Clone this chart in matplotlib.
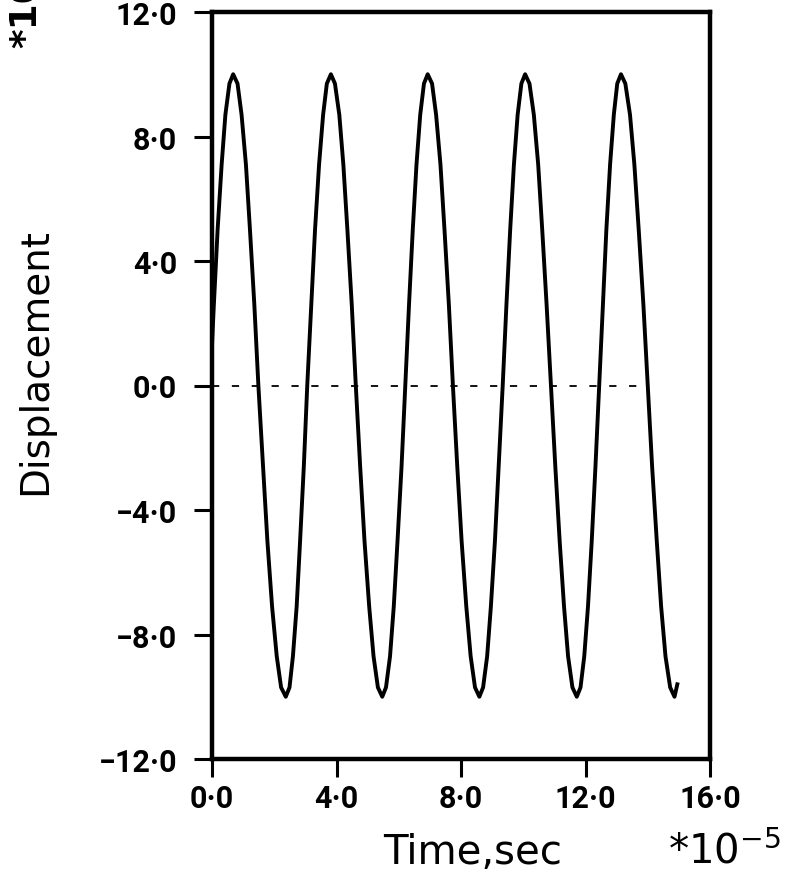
import matplotlib
matplotlib.use("Agg")
import matplotlib.pyplot as plt

# valeurs (temps en 1e-5 s)
temps = [0.00, 0.06, 0.18, 0.31, 0.43, 0.56, 0.68,
         0.82, 0.95, 1.09, 1.22, 1.36, 1.49,
         1.64, 1.78, 1.93, 2.08, 2.22, 2.37,
         2.49, 2.60, 2.72, 2.83, 2.95, 3.06,
         3.19, 3.31, 3.44, 3.57, 3.69, 3.82,
         3.95, 4.09, 4.22, 4.35, 4.49, 4.62,
         4.76, 4.90, 5.05, 5.19, 5.33, 5.47,
         5.59, 5.72, 5.84, 5.96, 6.09, 6.21,
         6.33, 6.45, 6.57, 6.69, 6.81, 6.93,
         7.07, 7.20, 7.34, 7.47, 7.61, 7.74,
         7.88, 8.02, 8.17, 8.31, 8.45, 8.59,
         8.71, 8.84, 8.96, 9.09, 9.21, 9.34,
         9.46, 9.58, 9.70, 9.82, 9.94, 10.06,
         10.20, 10.34, 10.48, 10.61, 10.75, 10.89,
         11.03, 11.17, 11.31, 11.44, 11.58, 11.72,
         11.84, 11.96, 12.08, 12.20, 12.32, 12.44,
         12.56, 12.67, 12.79, 12.91, 13.02, 13.14,
         13.28, 13.43, 13.57, 13.71, 13.86, 14.00,
         14.14, 14.29, 14.43, 14.57, 14.72, 14.86,
         14.95]
deplacement = [1.3, 2.6, 5.0, 7.1, 8.7, 9.7, 10.0,
               9.7, 8.7, 7.1, 5.0, 2.6, 0.0,
               -2.6, -5.0, -7.1, -8.7, -9.7, -10.0,
               -9.7, -8.7, -7.1, -5.0, -2.6, 0.0,
               2.6, 5.0, 7.1, 8.7, 9.7, 10.0,
               9.7, 8.7, 7.1, 5.0, 2.6, 0.0,
               -2.6, -5.0, -7.1, -8.7, -9.7, -10.0,
               -9.7, -8.7, -7.1, -5.0, -2.6, 0.0,
               2.6, 5.0, 7.1, 8.7, 9.7, 10.0,
               9.7, 8.7, 7.1, 5.0, 2.6, 0.0,
               -2.6, -5.0, -7.1, -8.7, -9.7, -10.0,
               -9.7, -8.7, -7.1, -5.0, -2.6, 0.0,
               2.6, 5.0, 7.1, 8.7, 9.7, 10.0,
               9.7, 8.7, 7.1, 5.0, 2.6, 0.0,
               -2.6, -5.0, -7.1, -8.7, -9.7, -10.0,
               -9.7, -8.7, -7.1, -5.0, -2.6, 0.0,
               2.6, 5.0, 7.1, 8.7, 9.7, 10.0,
               9.7, 8.7, 7.1, 5.0, 2.6, 0.0,
               -2.6, -5.0, -7.1, -8.7, -9.7, -10.0,
               -9.6]

# ligne de zero en pointilles
zero_t = [0.0, 14.0]
zero_y = [0.0, 0.0]

xticks = [0, 4, 8, 12, 16]
xlabels = ["0·0", "4·0", "8·0", "12·0", "16·0"]
yticks = [-12, -8, -4, 0, 4, 8, 12]
ylabels = ["\u221212·0", "\u22128·0", "\u22124·0", "0·0", "4·0", "8·0", "12·0"]

fig = plt.figure(figsize=(7.85, 8.79), dpi=100)
ax = fig.add_axes([212/785, 1 - 760/879, (710 - 212)/785, (760 - 13)/879])

ax.plot(temps, deplacement, color="black", lw=2.8, solid_joinstyle="round")
ax.plot(zero_t, zero_y, color="black", lw=1.3, linestyle=(0, (4, 7)))

ax.set_xlim(0, 16)
ax.set_ylim(-12, 12)
ax.set_xticks(xticks)
ax.set_xticklabels(xlabels)
ax.set_yticks(yticks)
ax.set_yticklabels(ylabels)

for s in ax.spines.values():
    s.set_linewidth(3.2)
ax.tick_params(direction="out", length=13, width=2.2, labelsize=22)
ax.tick_params(axis="y", pad=12)
ax.tick_params(axis="x", pad=4)
for lab in ax.get_xticklabels() + ax.get_yticklabels():
    lab.set_family(["Roboto", "DejaVu Sans"])
    lab.set_fontweight("bold")

ax.set_ylabel("Displacement", fontsize=28)
ax.yaxis.set_label_coords((35 - 212) / 498, (760 - 362) / 747)
ax.yaxis.label.set_va("center")
ax.set_xlabel("Time,sec", fontsize=29)
ax.xaxis.set_label_coords((473 - 212) / 498, -(853 - 760) / 747)
ax.xaxis.label.set_va("center")

fig.text(724/785, 1 - 852/879, "*10$^{-5}$", fontsize=29, ha="center", va="center")
fig.text(27/785, 1 - 48/879, "*10", fontsize=27, rotation=90,
         ha="center", va="bottom", fontweight="bold")

fig.savefig("out.png", dpi=100)
